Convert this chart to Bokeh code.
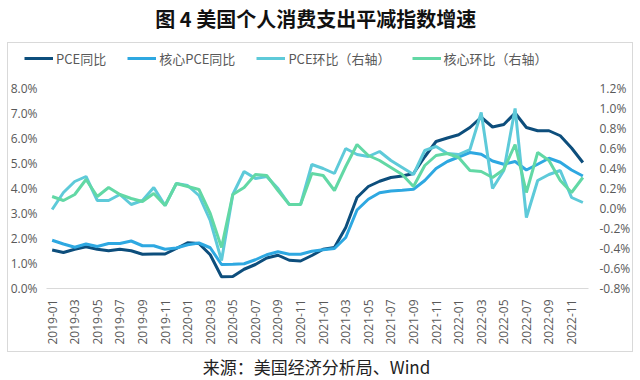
import math
from bokeh.plotting import figure
from bokeh.layouts import column
from bokeh.models import (Range1d, LinearAxis, FixedTicker, Legend, LegendItem,
                          Label, CustomJSTickFormatter)
from bokeh.embed import file_html
from bokeh.resources import INLINE

# ---------------- data ----------------
months = [f"{y}-{m:02d}" for y in (2019, 2020, 2021, 2022) for m in range(1, 13)]

pce_yoy = [1.54, 1.44, 1.57, 1.67, 1.57, 1.51, 1.57, 1.51, 1.37, 1.38, 1.38, 1.60,
           1.83, 1.80, 1.35, 0.47, 0.48, 0.77, 0.96, 1.22, 1.33, 1.13, 1.10, 1.32,
           1.57, 1.64, 2.44, 3.64, 4.08, 4.29, 4.44, 4.50, 4.60, 5.27, 5.88, 6.02,
           6.15, 6.44, 6.85, 6.46, 6.56, 7.02, 6.44, 6.31, 6.31, 6.11, 5.62, 5.04]

core_yoy = [1.93, 1.78, 1.65, 1.78, 1.68, 1.80, 1.80, 1.90, 1.71, 1.71, 1.57, 1.62,
            1.75, 1.82, 1.63, 0.96, 0.97, 0.99, 1.15, 1.35, 1.47, 1.37, 1.37, 1.49,
            1.55, 1.60, 2.04, 3.14, 3.57, 3.83, 3.90, 3.93, 3.97, 4.32, 4.80, 5.08,
            5.26, 5.44, 5.37, 5.10, 4.97, 5.08, 4.74, 4.97, 5.21, 5.05, 4.74, 4.50]

pce_mom = [-0.01, 0.16, 0.27, 0.32, 0.08, 0.08, 0.14, 0.04, 0.08, 0.21, 0.03, 0.25,
           0.23, 0.13, -0.12, -0.52, 0.14, 0.37, 0.30, 0.32, 0.20, 0.04, 0.04, 0.44,
           0.40, 0.35, 0.60, 0.54, 0.52, 0.57, 0.48, 0.41, 0.34, 0.58, 0.62, 0.55,
           0.54, 0.59, 0.96, 0.20, 0.38, 1.00, -0.09, 0.28, 0.34, 0.38, 0.11, 0.06]

core_mom = [0.12, 0.08, 0.14, 0.29, 0.12, 0.21, 0.14, 0.10, 0.07, 0.15, 0.03, 0.25,
            0.22, 0.19, -0.05, -0.39, 0.14, 0.21, 0.34, 0.33, 0.18, 0.04, 0.04, 0.35,
            0.33, 0.18, 0.42, 0.64, 0.53, 0.48, 0.41, 0.34, 0.22, 0.43, 0.53, 0.55,
            0.51, 0.38, 0.37, 0.31, 0.39, 0.64, 0.16, 0.56, 0.48, 0.28, 0.16, 0.31]

series = [pce_yoy, core_yoy, pce_mom, core_mom]
series_names = ["PCE同比", "核心PCE同比", "PCE环比（右轴）", "核心环比（右轴）"]
left_ticks = [0, 1, 2, 3, 4, 5, 6, 7, 8]
right_ticks = [-0.8, -0.6, -0.4, -0.2, 0.0, 0.2, 0.4, 0.6, 0.8, 1.0, 1.2]
title_text = "图 4  美国个人消费支出平减指数增速"
source_text = "来源：美国经济分析局、Wind"

# ---------------- styling ----------------
colors = ["#0D4E7C", "#2EA8E1", "#5ECAD9", "#62D8A5"]
CJK = "Noto Sans CJK SC"
TICK_FONT = "Open Sans"
GRAY = "#595959"
BOX = "#D9D9D9"
W = 640
H_HEAD, H_MAIN, H_SRC = 70, 282, 28


def grad(x, y, w, h):
    return f"linear-gradient({BOX},{BOX}) {x}px {y}px / {w}px {h}px no-repeat"


def blank_fig(h, styles=None):
    # frame covers the whole figure; ranges are far from the data so that
    # legend proxy lines stay out of sight
    f = figure(width=W, height=h, output_backend="svg", toolbar_location=None,
               x_range=Range1d(-1000, -999), y_range=Range1d(-1000, -999),
               x_axis_location=None, y_axis_location=None, title_location=None,
               min_border=0, min_border_left=0, min_border_right=0,
               min_border_top=0, min_border_bottom=0, frame_align=False,
               styles=styles or {})
    f.xgrid.visible = False
    f.ygrid.visible = False
    f.outline_line_color = None
    f.border_fill_alpha = 0
    f.background_fill_alpha = 0
    return f


x = list(range(len(months)))

# ---- header: title + legend + top of frame box ----
head = blank_fig(H_HEAD, styles={"background": ", ".join([
    grad(7, 42, 626, 1), grad(7, 42, 1, H_HEAD - 42), grad(632, 42, 1, H_HEAD - 42)])})
head.add_layout(Label(x=317.5, y=H_HEAD - 18, x_units="screen", y_units="screen",
                      text=title_text, text_align="center", text_baseline="middle",
                      text_font=CJK, text_font_size="20px", text_font_style="bold",
                      text_color="#111111"))
proxies = [head.line(x, s, line_color=c, line_width=3) for s, c in zip(series, colors)]
legend = Legend(items=[LegendItem(label=n, renderers=[r]) for n, r in zip(series_names, proxies)],
                orientation="horizontal", location=(24, H_HEAD - 68),
                border_line_color=None, background_fill_alpha=0,
                glyph_width=29, glyph_height=20, label_height=20,
                label_standoff=3, spacing=21, padding=4, margin=0,
                label_text_font=CJK, label_text_font_size="13px",
                label_text_color=GRAY)
head.add_layout(legend, "center")

# ---- main chart ----
p = figure(width=W, height=H_MAIN, output_backend="svg", toolbar_location=None,
           x_range=Range1d(-0.5, len(months) - 0.5), y_range=Range1d(0, 8),
           min_border_left=46, min_border_right=52, min_border_top=18,
           min_border_bottom=64, y_axis_location=None, title_location=None,
           frame_align=False,
           styles={"background": ", ".join([
               grad(7, 0, 1, H_MAIN), grad(632, 0, 1, H_MAIN),
               grad(7, H_MAIN - 1, 626, 1)])})
p.extra_y_ranges = {"right": Range1d(-0.8, 1.2)}
p.outline_line_color = None
p.xgrid.visible = False
p.ygrid.visible = False
p.border_fill_alpha = 0
p.background_fill_alpha = 0

pct = CustomJSTickFormatter(code="return tick.toFixed(1) + '%';")
left = LinearAxis(ticker=FixedTicker(ticks=left_ticks), formatter=pct)
right = LinearAxis(y_range_name="right", ticker=FixedTicker(ticks=right_ticks), formatter=pct)
for ax, st in ((left, 3), (right, 5)):
    ax.axis_line_color = None
    ax.major_tick_line_color = None
    ax.minor_tick_line_color = None
    ax.major_label_standoff = st
    ax.major_label_text_font = TICK_FONT
    ax.major_label_text_font_size = "12px"
    ax.major_label_text_color = GRAY
p.add_layout(left, "left")
p.add_layout(right, "right")

xa = p.xaxis[0]
xa.ticker = FixedTicker(ticks=x[::2])
xa.major_label_overrides = {i: months[i] for i in x[::2]}
xa.major_label_orientation = math.pi / 2
xa.axis_line_color = BOX
xa.axis_line_width = 1
xa.major_tick_line_color = None
xa.minor_tick_line_color = None
xa.major_label_standoff = 5
xa.major_label_text_font = TICK_FONT
xa.major_label_text_font_size = "12px"
xa.major_label_text_color = GRAY

p.line(x, pce_yoy, line_color=colors[0], line_width=3)
p.line(x, core_yoy, line_color=colors[1], line_width=3)
p.line(x, pce_mom, line_color=colors[2], line_width=3, y_range_name="right")
p.line(x, core_mom, line_color=colors[3], line_width=3, y_range_name="right")

# ---- source line ----
src = blank_fig(H_SRC)
src.add_layout(Label(x=316, y=H_SRC - 14, x_units="screen", y_units="screen",
                     text=source_text, text_align="center", text_baseline="middle",
                     text_font=CJK, text_font_size="17px", text_color="#222222"))

layout = column(head, p, src, spacing=0)
open("out.html", "w").write(file_html(layout, INLINE))
